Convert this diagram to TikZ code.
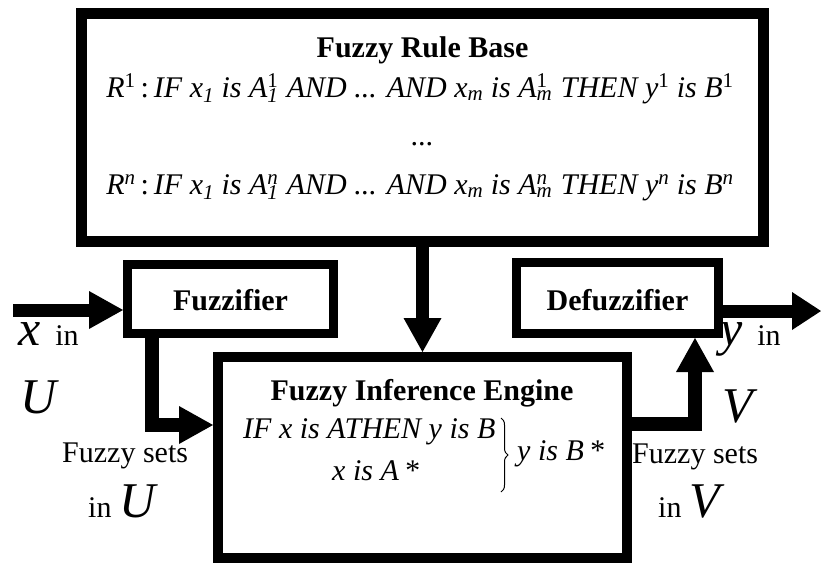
\documentclass[tikz,border=0pt]{standalone}
\usepackage{fontspec}
\setmainfont{Liberation Serif}
\usetikzlibrary{arrows.meta,calc,decorations.pathreplacing}
\newcommand\supsub[2]{\setbox0\hbox{\textsuperscript{#1}}\setbox2\hbox{\textsubscript{#2}}\ifdim\wd0>\wd2\relax\rlap{\box2}\box0\relax\else\rlap{\box0}\box2\relax\fi\kern1pt\relax}
\newcommand\up[1]{\textsuperscript{\upshape #1}}
\begin{document}
\begin{tikzpicture}[x=1pt,y=-1pt,
  box/.style={draw, rectangle, inner sep=0pt},
  conn/.style={line width=13pt, line join=miter, -{Triangle[length=34pt,width=38pt,line width=0pt]}},
  body/.style={font=\fontsize{30}{36}\selectfont, inner sep=0pt},
  bold/.style={font=\bfseries\fontsize{30}{36}\selectfont, inner sep=0pt},
  ital/.style={font=\itshape\fontsize{30}{36}\selectfont, inner sep=0pt},
  big/.style={font=\itshape\fontsize{50}{50}\selectfont, inner sep=0pt}]
\useasboundingbox (0,0) rectangle (821,563);
% boxes
\node[box, line width=11pt, minimum width=682pt, minimum height=228pt] (rule) at (422.5,127.5) {};
\node[box, line width=9pt, minimum width=206pt, minimum height=69pt] (fuzz) at (230.5,299) {};
\node[box, line width=9pt, minimum width=202pt, minimum height=71pt] (defuzz) at (617.5,298) {};
\node[box, line width=10pt, minimum width=409pt, minimum height=201pt] (engine) at (422.5,457.5) {};
% texts in boxes
\node[bold, anchor=base] (trb) at (422.5,57) {Fuzzy Rule Base};
\node[ital, anchor=base] (r1) at (420,97) {R\up{1}\,\upshape:\,\itshape IF x\textsubscript{1} is A\supsub{\upshape 1}{1} AND ... AND x\textsubscript{m} is A\supsub{\upshape 1}{m} THEN y\up{1} is B\up{1}};
\node[ital, anchor=base] (dots) at (422.5,145) {...};
\node[ital, anchor=base] (rn) at (420,194) {R\textsuperscript{n}\,\upshape:\,\itshape IF x\textsubscript{1} is A\supsub{n}{1} AND ... AND x\textsubscript{m} is A\supsub{n}{m} THEN y\textsuperscript{n} is B\textsuperscript{n}};
\node[bold, anchor=base] (tfz) at (230.5,310) {Fuzzifier};
\node[bold, anchor=base] (tdf) at (617.5,310) {Defuzzifier};
\node[bold, anchor=base] (tie) at (422,400) {Fuzzy Inference Engine};
\node[ital, anchor=base west] (ifl) at (243,438) {IF x is ATHEN y is B};
\node[ital, anchor=base west] (xa) at (332,480) {x is A\,*};
\node[ital, anchor=base west] (yb) at (517,460) {y is B\,*};
\coordinate (b1) at (501,418);
\coordinate (b2) at (501,492);
\draw[line width=1pt, decorate, decoration={brace, amplitude=7pt}] (b1) -- (b2);
% outside labels
\node[body, anchor=base west] (xin) at (18,345) {{\fontsize{50}{50}\itshape x}\ \ in};
\node[big, anchor=base west] (lu) at (20,413) {U};
\node[body, anchor=base west] (fsl) at (62,462) {Fuzzy sets};
\node[body, anchor=base west] (inu) at (88,517) {in {\fontsize{50}{50}\itshape U}};
\node[body, anchor=base west] (yin) at (720,345) {{\fontsize{50}{50}\itshape y}\ \ in};
\node[big, anchor=base west] (rv) at (722,422) {V};
\node[body, anchor=base west] (fsr) at (632,463) {Fuzzy sets};
\node[body, anchor=base west] (inv) at (658,517) {in {\fontsize{50}{50}\itshape V}};
% connectors
\coordinate (inS) at (13,310);
\coordinate (fe) at (151.5,425);
\coordinate (ed) at (695,424);
\coordinate (outE) at (821,311);
\draw[conn] (inS) -- (inS -| fuzz.west);
\draw[conn] (rule.south) -- (engine.north);
\draw[conn, line width=14pt] (fuzz.south -| fe) |- (engine.west |- fe);
\draw[conn, line width=14pt] (engine.east |- ed) -| (defuzz.south -| ed);
\draw[line width=13pt, -{Triangle[length=29pt,width=38pt,line width=0pt]}] (defuzz.east |- outE) -- (outE);
\end{tikzpicture}
\end{document}
